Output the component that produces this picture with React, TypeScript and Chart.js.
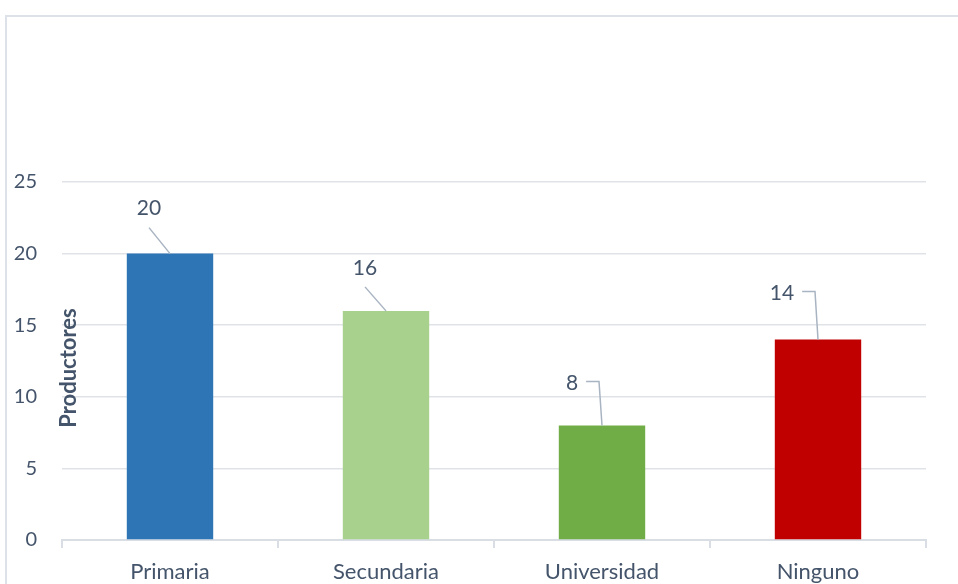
import React, { useEffect, useRef } from "react";
import { Chart, registerables } from "chart.js";

Chart.register(...registerables);

const categories = ["Primaria", "Secundaria", "Universidad", "Ninguno"];
const productores = [20, 16, 8, 14];
const barColors = ["#2e75b6", "#a9d18e", "#70ad47", "#c00000"];
const yTicks = [0, 5, 10, 15, 20, 25];
const yTitle = "Productores";

// label placement relative to bar top centre (styling only)
const labelStyle = [
  { dx: -21, dy: -45, kind: "diag" },
  { dx: -21, dy: -43, kind: "diag" },
  { dx: -30, dy: -42, kind: "elbow" },
  { dx: -36, dy: -46, kind: "elbow" },
];

const FONT = "Lato, 'Open Sans', sans-serif";
const TEXT = "#44546a";

const decorPlugin = {
  id: "decor",
  beforeDraw(chart: any) {
    const ctx = chart.ctx;
    ctx.save();
    ctx.strokeStyle = "#dde2e8";
    ctx.lineWidth = 2;
    ctx.beginPath();
    ctx.moveTo(6, 600);
    ctx.lineTo(6, 16);
    ctx.lineTo(960, 16);
    ctx.stroke();
    ctx.restore();
  },
  afterDraw(chart: any) {
    const ctx = chart.ctx;
    const area = chart.chartArea;
    ctx.save();
    ctx.translate(area.left + 7, 368);
    ctx.rotate(-Math.PI / 2);
    ctx.fillStyle = TEXT;
    ctx.font = `bold 22px ${FONT}`;
    ctx.textAlign = "center";
    ctx.textBaseline = "middle";
    ctx.fillText(yTitle, 0, 0);
    ctx.restore();

    const meta = chart.getDatasetMeta(0);
    meta.data.forEach((bar: any, i: number) => {
      const st = labelStyle[i];
      const bx = bar.x;
      const by = bar.y;
      const tx = bx + st.dx;
      const ty = by + st.dy;
      ctx.save();
      ctx.font = `21px ${FONT}`;
      ctx.strokeStyle = "#a9b4c2";
      ctx.lineWidth = 1.5;
      ctx.beginPath();
      if (st.kind === "diag") {
        ctx.moveTo(tx, ty + 19);
        ctx.lineTo(bx, by);
      } else {
        const half = ctx.measureText(String(productores[i])).width / 2;
        const lx = tx + half + 8;
        const ly = ty - 2;
        ctx.moveTo(lx, ly);
        ctx.lineTo(bx - 3, ly);
        ctx.lineTo(bx, by);
      }
      ctx.stroke();
      ctx.fillStyle = TEXT;
      ctx.textAlign = "center";
      ctx.textBaseline = "middle";
      ctx.fillText(String(productores[i]), tx, ty);
      ctx.restore();
    });
  },
};

export default function App() {
  const ref = useRef<HTMLCanvasElement>(null);
  useEffect(() => {
    if (!ref.current) return;
    const chart = new Chart(ref.current, {
      type: "bar",
      data: {
        labels: categories,
        datasets: [
          {
            data: productores,
            backgroundColor: barColors,
            categoryPercentage: 1,
            barPercentage: 0.4,
          },
        ],
      },
      options: {
        animation: false,
        responsive: false,
        layout: { padding: { top: 182, right: 32, left: 0, bottom: 0 } },
        plugins: { legend: { display: false }, tooltip: { enabled: false } },
        scales: {
          x: {
            afterFit: (s: any) => {
              s.height = 44;
            },
            border: { display: true, color: "#d9dee4", width: 2 },
            grid: {
              offset: true,
              drawOnChartArea: false,
              drawTicks: true,
              tickLength: 8,
              color: "#d9dee4",
              lineWidth: 2,
            },
            ticks: { color: TEXT, font: { family: FONT, size: 22 }, padding: 11 },
          },
          y: {
            min: 0,
            max: 25,
            afterFit: (s: any) => {
              s.width = 62;
            },
            afterBuildTicks: (s: any) => {
              s.ticks = yTicks.map((v) => ({ value: v }));
            },
            border: { display: false },
            grid: { color: "#dfe3e8", lineWidth: 1.5, drawTicks: false },
            ticks: { color: TEXT, font: { family: FONT, size: 20 }, padding: 25 },
          },
        },
      },
      plugins: [decorPlugin],
    });
    return () => chart.destroy();
  }, []);
  return (
    <div style={{ position: "absolute", left: 0, top: 0, width: 958, height: 584, background: "#fff" }}>
      <canvas ref={ref} width={958} height={584} style={{ display: "block" }} />
    </div>
  );
}
